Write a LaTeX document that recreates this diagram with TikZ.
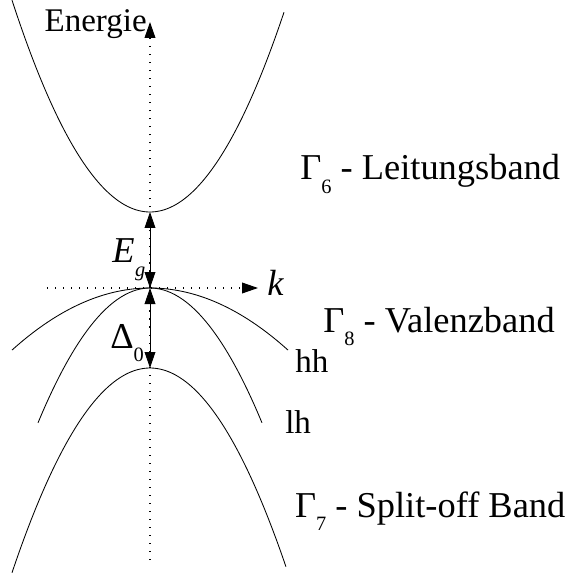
\documentclass[tikz,border=0pt]{standalone}
\usepackage{fontspec}
\setmainfont{Liberation Serif}
\usetikzlibrary{arrows.meta, positioning}

% tiefgestellter Index wie im Original (klein und deutlich unter der Grundlinie)
\newcommand{\tief}[1]{\raisebox{-0.36em}{\fontsize{14.5}{15}\selectfont #1}}

\begin{document}
\begin{tikzpicture}[>={Triangle[length=0.4cm, width=0.27cm]},
    band/.style={line width=0.6pt},
    achse/.style={line width=0.8pt, dash pattern=on 0.8pt off 4.9pt},
    gross/.style={font=\fontsize{25.9}{30}\selectfont, inner sep=0pt, anchor=base west},
    klein/.style={font=\fontsize{23.5}{28}\selectfont, inner sep=0pt, anchor=base west}]

    \useasboundingbox (-3.75,-7.375) rectangle (10.5,7.2);

    % =================================================================
    % 1. KOORDINATEN
    % =================================================================
    \coordinate (O) at (0,0);          % Gamma-Punkt, Oberkante Valenzband
    \coordinate (CB) at (0,1.9);       % Minimum Leitungsband
    \coordinate (SO) at (0,-2.0);      % Maximum Split-off Band
    \coordinate (Eoben) at (0,6.65);
    \coordinate (Eunten) at (0,-6.8);
    \coordinate (Klinks) at (-2.575,0);
    \coordinate (Krechts) at (2.7,0);

    % =================================================================
    % 2. ACHSEN (PUNKTIERT)
    % =================================================================
    \draw[achse, ->] (Eunten) -- (Eoben);
    \draw[achse, ->] (Klinks) -- (Krechts);

    % =================================================================
    % 3. BAENDER (PARABELN)
    % =================================================================
    % Leitungsband
    \draw[band] plot[domain=-3.45:3.35, smooth, samples=60] (\x, {1.9+0.445*\x*\x});
    % schwere Loecher (hh)
    \draw[band] plot[domain=-3.45:3.45, smooth, samples=60] (\x, {-0.1304*\x*\x});
    % leichte Loecher (lh)
    \draw[band] plot[domain=-2.8:2.8, smooth, samples=60] (\x, {-0.43*\x*\x});
    % Split-off Band
    \draw[band] plot[domain=-3.45:3.4, smooth, samples=60] (\x, {-2.0-0.43*\x*\x});

    % =================================================================
    % 4. ENERGIEABSTAENDE
    % =================================================================
    \draw[band, <->] (CB) -- (O);
    \draw[band, <->] (O) -- (SO);

    % =================================================================
    % 5. BESCHRIFTUNG
    % =================================================================
    \node[klein, anchor=base east] (energie) at (-0.075,6.4) {Energie};
    \node[gross] (k) at (2.925,-0.175) {\textit{k}};
    \node[gross] (eg) at (-0.95,0.625) {\textit{E}\kern0.5pt\tief{\textit{g}}};
    \node[gross] (delta) at (-1.0,-1.5) {Δ\tief{0}};

    \node[gross] (leitung) at (3.75,2.7) {Γ\tief{6} - Leitungsband};
    \node[gross] (valenz) at (4.325,-1.1) {Γ\tief{8} - Valenzband};
    \node[klein] (hh) at (3.625,-2.1) {hh};
    \node[klein] (lh) at (3.375,-3.625) {lh};
    \node[gross] (splitoff) at (3.62,-5.725) {Γ\tief{7} - Split-off Band};

\end{tikzpicture}
\end{document}
